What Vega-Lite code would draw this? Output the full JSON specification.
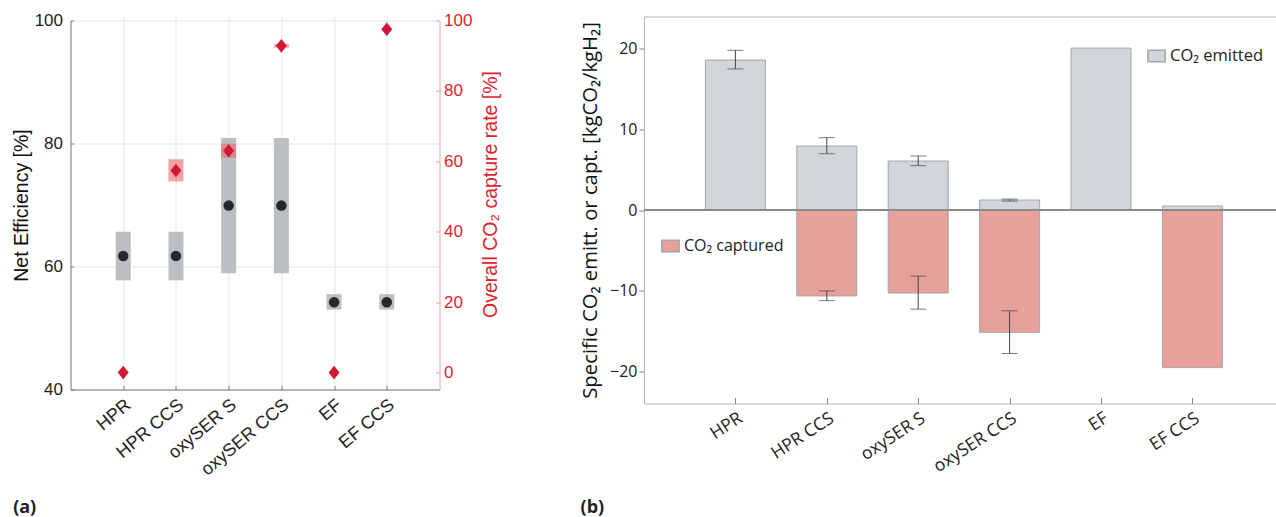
{
  "$schema": "https://vega.github.io/schema/vega-lite/v6.json",
  "padding": {"left": 10.5, "top": 11.5, "right": 0, "bottom": 0},
  "background": "white",
  "bounds": "flush",
  "spacing": 204.5,
  "config": {"view": {"stroke": null}},
  "datasets": {
    "eff": [
      {"plant": "HPR", "eff": 61.7, "effLo": 57.75, "effHi": 65.65, "cap": 0, "capLo": 0, "capHi": 0},
      {"plant": "HPR CCS", "eff": 61.7, "effLo": 57.75, "effHi": 65.65, "cap": 57.4, "capLo": 54.3, "capHi": 60.6},
      {"plant": "oxySER S", "eff": 69.9, "effLo": 58.9, "effHi": 80.9, "cap": 63, "capLo": 61, "capHi": 65},
      {"plant": "oxySER CCS", "eff": 69.9, "effLo": 58.9, "effHi": 80.9, "cap": 92.8, "capLo": 92.3, "capHi": 93.3},
      {"plant": "EF", "eff": 54.2, "effLo": 53, "effHi": 55.5, "cap": 0, "capLo": 0, "capHi": 0},
      {"plant": "EF CCS", "eff": 54.2, "effLo": 53, "effHi": 55.5, "cap": 97.5, "capLo": 97.5, "capHi": 97.5}
    ],
    "co2": [
      {"plant": "HPR", "emitted": 18.6, "emLo": 17.5, "emHi": 19.8, "series": "CO₂ emitted"},
      {"plant": "HPR CCS", "emitted": 7.93, "emLo": 6.98, "emHi": 8.97, "captured": -10.66, "capLo": -11.24, "capHi": -10.04, "series": "CO₂ emitted", "series2": "CO₂ captured"},
      {"plant": "oxySER S", "emitted": 6.07, "emLo": 5.5, "emHi": 6.7, "captured": -10.3, "capLo": -12.3, "capHi": -8.2, "series": "CO₂ emitted", "series2": "CO₂ captured"},
      {"plant": "oxySER CCS", "emitted": 1.24, "emLo": 1.1, "emHi": 1.36, "captured": -15.17, "capLo": -17.8, "capHi": -12.5, "series": "CO₂ emitted", "series2": "CO₂ captured"},
      {"plant": "EF", "emitted": 20.08, "series": "CO₂ emitted"},
      {"plant": "EF CCS", "emitted": 0.5, "captured": -19.55, "series": "CO₂ emitted", "series2": "CO₂ captured"}
    ]
  },
  "hconcat": [
    {
      "width": 369,
      "height": 373,
      "title": {"text": "(a)", "orient": "bottom", "anchor": "start", "frame": "bounds", "font": "Open Sans", "fontSize": 18, "fontWeight": "bold", "color": "#222", "offset": 20, "dx": 2},
      "data": {"name": "eff"},
      "encoding": {
        "x": {
          "field": "plant", "type": "nominal", "sort": null,
          "scale": {"type": "point", "padding": 1},
          "axis": {
            "title": null, "labelAngle": -40, "labelAlign": "right", "labelBaseline": "middle",
            "labelFont": "Liberation Sans", "labelFontSize": 18, "labelColor": "#222", "labelPadding": 17, "labelOffset": 5,
            "grid": true, "gridColor": "#e6e6e6", "tickSize": -4, "tickColor": "#777", "domainColor": "#777"
          }
        }
      },
      "layer": [
        {
          "encoding": {
            "y": {
              "type": "quantitative",
              "scale": {"domain": [40, 100], "range": [373, 4]},
              "axis": {
                "title": "Net Efficiency [%]", "titleFont": "Liberation Sans", "titleFontSize": 19.5, "titleFontWeight": "normal", "titleColor": "#111", "titlePadding": 3,
                "values": [40, 60, 80, 100], "labelFont": "Liberation Sans", "labelFontSize": 17, "labelColor": "#222", "labelPadding": 11,
                "grid": true, "gridColor": "#e6e6e6", "tickSize": -3, "tickColor": "#777", "domainColor": "#777"
              }
            }
          },
          "layer": [
            {
              "mark": {"type": "bar", "width": 15, "color": "#bcbfc2"},
              "encoding": {"y": {"field": "effLo"}, "y2": {"field": "effHi"}}
            },
            {
              "mark": {"type": "point", "filled": true, "size": 110, "color": "#26292c", "opacity": 1},
              "encoding": {"y": {"field": "eff"}}
            }
          ]
        },
        {
          "encoding": {
            "y": {
              "type": "quantitative",
              "scale": {"domain": [-4.8, 100], "range": [373, 4]},
              "axis": {
                "orient": "right", "title": "Overall CO₂ capture rate [%]", "titleAngle": -90, "titleFont": "Liberation Sans", "titleFontSize": 19.5, "titleFontWeight": "normal", "titleColor": "#e0232e", "titlePadding": 29, "titleY": 177.5,
                "values": [0, 20, 40, 60, 80, 100], "labelFont": "Liberation Sans", "labelFontSize": 17, "labelColor": "#e0232e", "labelPadding": 8,
                "grid": false, "tickSize": -4, "tickColor": "#f0a0a4", "domainColor": "#f0a0a4"
              }
            }
          },
          "layer": [
            {
              "mark": {"type": "bar", "width": 15, "color": "#f0656c", "opacity": 0.6},
              "encoding": {"y": {"field": "capLo"}, "y2": {"field": "capHi"}}
            },
            {
              "mark": {"type": "point", "filled": true, "size": 167, "shape": "M0,-1.05L0.85,0L0,1.05L-0.85,0Z", "color": "#d01a35", "opacity": 1},
              "encoding": {"y": {"field": "cap"}}
            }
          ]
        }
      ],
      "resolve": {"scale": {"y": "independent"}}
    },
    {
      "width": 633,
      "height": 387,
      "view": {"stroke": "#b4b4b4"},
      "title": {"text": "(b)", "orient": "bottom", "anchor": "start", "frame": "bounds", "font": "Open Sans", "fontSize": 18, "fontWeight": "bold", "color": "#222", "offset": 24, "dx": 0},
      "data": {"name": "co2"},
      "encoding": {
        "x": {
          "field": "plant", "type": "nominal", "sort": null,
          "scale": {"type": "point", "padding": 0, "range": [91.4, 548.4]},
          "axis": {
            "title": null, "labelAngle": -33, "labelAlign": "right", "labelBaseline": "middle",
            "labelFont": "Open Sans", "labelFontSize": 17.5, "labelColor": "#222", "labelPadding": 19, "labelOffset": 5,
            "grid": false, "domain": false, "tickSize": -6, "tickColor": "#888"
          }
        },
        "y": {
          "type": "quantitative",
          "scale": {"domain": [-24, 24]},
          "axis": {
            "title": "Specific CO₂ emitt. or capt. [kgCO₂/kgH₂]", "titleFont": "Open Sans", "titleFontSize": 20.3, "titleFontWeight": "normal", "titleColor": "#111", "titlePadding": 9,
            "values": [-20, -10, 0, 10, 20], "labelFont": "Open Sans", "labelFontSize": 16, "labelColor": "#222",
            "grid": false, "domain": false, "tickSize": 5, "tickColor": "#888"
          }
        }
      },
      "layer": [
        {
          "mark": {"type": "bar", "width": 60, "stroke": "#a3a6a8", "strokeWidth": 1},
          "encoding": {
            "y": {"field": "emitted"},
            "y2": {"datum": 0},
            "color": {
              "field": "series", "type": "nominal",
              "scale": {"range": ["#d3d6d8"]},
              "legend": {"title": null, "orient": "none", "legendX": 503, "legendY": 30, "symbolType": "M-1,-0.65H1V0.65H-1Z", "symbolSize": 300, "symbolOpacity": 1, "symbolStrokeColor": "#a3a6a8", "labelFont": "Open Sans", "labelFontSize": 16.5, "labelColor": "#222"}
            }
          }
        },
        {
          "transform": [{"filter": "datum.captured != null"}],
          "mark": {"type": "bar", "width": 60, "stroke": "#a3a6a8", "strokeWidth": 1},
          "encoding": {
            "y": {"field": "captured"},
            "y2": {"datum": 0},
            "color": {
              "field": "series2", "type": "nominal",
              "scale": {"range": ["#e8a09a"]},
              "legend": {"title": null, "orient": "none", "legendX": 17, "legendY": 220, "symbolType": "M-1,-0.65H1V0.65H-1Z", "symbolSize": 300, "symbolOpacity": 1, "symbolStrokeColor": "#a3a6a8", "labelFont": "Open Sans", "labelFontSize": 16, "labelColor": "#222"}
            }
          }
        },
        {
          "mark": {"type": "rule", "color": "#8a8a8a", "strokeWidth": 1},
          "encoding": {"y": {"datum": 0}, "x": null}
        },
        {
          "transform": [{"filter": "datum.emLo != null"}],
          "mark": {"type": "rule", "color": "#444", "strokeWidth": 1},
          "encoding": {"y": {"field": "emLo"}, "y2": {"field": "emHi"}}
        },
        {
          "transform": [{"filter": "datum.emLo != null"}],
          "mark": {"type": "tick", "color": "#444", "size": 16, "thickness": 1, "orient": "horizontal"},
          "encoding": {"y": {"field": "emLo"}}
        },
        {
          "transform": [{"filter": "datum.emHi != null"}],
          "mark": {"type": "tick", "color": "#444", "size": 16, "thickness": 1, "orient": "horizontal"},
          "encoding": {"y": {"field": "emHi"}}
        },
        {
          "transform": [{"filter": "datum.capLo != null"}],
          "mark": {"type": "rule", "color": "#444", "strokeWidth": 1},
          "encoding": {"y": {"field": "capLo"}, "y2": {"field": "capHi"}}
        },
        {
          "transform": [{"filter": "datum.capLo != null"}],
          "mark": {"type": "tick", "color": "#444", "size": 16, "thickness": 1, "orient": "horizontal"},
          "encoding": {"y": {"field": "capLo"}}
        },
        {
          "transform": [{"filter": "datum.capHi != null"}],
          "mark": {"type": "tick", "color": "#444", "size": 16, "thickness": 1, "orient": "horizontal"},
          "encoding": {"y": {"field": "capHi"}}
        }
      ],
      "resolve": {"scale": {"color": "independent"}}
    }
  ]
}
